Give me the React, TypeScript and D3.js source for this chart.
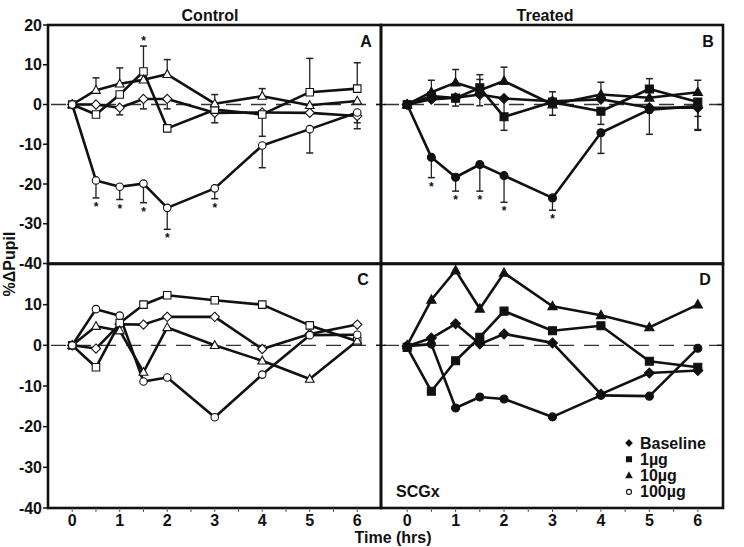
import React from 'react';
import * as d3 from 'd3';

// ---------- DATA ----------
const times = [0, 0.5, 1, 1.5, 2, 3, 4, 5, 6];
const seriesNames = ['Baseline', '1µg', '10µg', '100µg'];
const seriesShapes = ['diamond', 'square', 'triangle', 'circle'];
const yTicksUpper = [20, 10, 0, -10, -20, -30, -40];
const yTicksLower = [10, 0, -10, -20, -30, -40];
const xTicks = [0, 1, 2, 3, 4, 5, 6];
const columnTitles = ['Control', 'Treated'];
const panelLetters = ['A', 'B', 'C', 'D'];

// Panel A (Control, upper)
const A_baseline = [0, 0, -0.8, 1.4, 1.4, -2.1, -2.0, -2.1, -2.9];
const A_1ug = [0, -2.5, 2.5, 8.3, -6.0, -1.3, -2.5, 3.1, 4.0];
const A_10ug = [0, 3.6, 5.2, 6.2, 7.6, 0.2, 2.1, -0.2, 0.9];
const A_100ug = [0, -19.1, -20.7, -19.9, -26.0, -21.1, -10.3, -6.2, -2.0];
const A_baseline_errUp = [null, null, null, null, null, null, null, null, null];
const A_baseline_errDown = [null, null, 1.8, 2.5, 2.5, 2.5, null, null, 3.2];
const A_1ug_errUp = [null, null, null, 6.4, null, null, null, 8.5, 6.5];
const A_1ug_errDown = [null, null, null, null, null, null, 5.5, null, null];
const A_10ug_errUp = [null, 3.1, 4.0, null, 3.7, 2.3, 1.9, null, null];
const A_10ug_errDown = [null, null, null, null, null, null, null, null, null];
const A_100ug_errUp = [null, null, null, null, null, null, null, null, null];
const A_100ug_errDown = [null, 4.4, 3.2, 4.8, 5.4, 2.6, 5.6, 6.0, 2.6];
const A_sigBelow100 = [0.5, 1, 1.5, 2, 3];
const A_sigAbove1ug = [1.5];

// Panel B (Treated, upper)
const B_baseline = [0, 1.3, 1.7, 2.5, 1.5, 0.8, 1.3, -0.8, -0.8];
const B_1ug = [0, 2.1, 1.6, 4.2, -3.1, 0.6, -1.7, 3.9, 0.6];
const B_10ug = [0, 3.1, 5.5, 3.6, 5.9, 0.0, 2.5, 1.7, 3.1];
const B_100ug = [0, -13.3, -18.3, -15.1, -17.9, -23.5, -7.1, -1.3, -0.4];
const B_baseline_errUp = [null, null, null, null, null, null, 4.3, null, null];
const B_baseline_errDown = [null, null, 2.1, 2.8, 3.8, 3.5, null, null, 5.5];
const B_1ug_errUp = [null, null, null, 3.3, null, null, null, 2.6, null];
const B_1ug_errDown = [null, null, null, null, 3.4, null, 3.3, null, 3.6];
const B_10ug_errUp = [null, 3.0, 3.3, 2.7, 3.5, 3.2, null, null, 3.0];
const B_10ug_errDown = [null, null, null, null, null, null, null, null, null];
const B_100ug_errUp = [null, null, null, null, null, null, null, null, null];
const B_100ug_errDown = [null, 5.1, 3.5, 6.7, 6.7, 3.1, 5.2, 6.2, 6.1];
const B_sigBelow100 = [0.5, 1, 1.5, 2, 3];

// Panel C (Control, lower)
const C_baseline = [0, -0.8, 5.2, 5.1, 7.0, 7.0, -0.9, 2.8, 5.1];
const C_1ug = [0, -5.4, 5.5, 10.0, 12.3, 11.1, 10.0, 4.9, 1.0];
const C_10ug = [0, 4.7, 3.6, -6.6, 4.4, 0.0, -3.8, -8.3, 1.1];
const C_100ug = [0, 8.9, 7.3, -8.9, -7.9, -17.7, -7.2, 2.5, 2.6];

// Panel D (SCGx, lower)
const D_baseline = [-0.2, 1.8, 5.3, 0.3, 2.8, 0.6, -12.0, -6.8, -6.2];
const D_1ug = [-0.5, -11.3, -3.8, 2.0, 8.4, 3.6, 4.8, -3.9, -5.4];
const D_10ug = [0, 11.2, 18.4, 9.0, 17.8, 9.6, 7.4, 4.4, 10.0];
const D_100ug = [-0.2, 0.3, -15.4, -12.7, -13.2, -17.6, -12.3, -12.5, -0.7];
const D_note = 'SCGx';

// ---------- LAYOUT ----------
const W = 744;
const H = 547;
const FONT = '"Liberation Sans", Arial, Helvetica, sans-serif';
const colX = [
  { x0: 48, x1: 381, domain: [-0.51, 6.5] },
  { x0: 381, x1: 723, domain: [-0.54, 6.52] },
];
const rowY = [
  { y0: 25, y1: 263.5 },
  { y0: 264, y1: 508 },
];

type Series = {
  values: number[];
  errUp?: (number | null)[];
  errDown?: (number | null)[];
};

function markerPath(shape: string, size: number): string {
  const s = size;
  switch (shape) {
    case 'diamond':
      return `M0,${-s * 0.62}L${s * 0.62},0L0,${s * 0.62}L${-s * 0.62},0Z`;
    case 'square':
      return `M${-s / 2},${-s / 2}h${s}v${s}h${-s}Z`;
    case 'triangle':
      return `M0,${-s * 0.62}L${s * 0.58},${s * 0.42}L${-s * 0.58},${s * 0.42}Z`;
    default:
      return '';
  }
}

function Marker({ shape, x, y, filled, size }: { shape: string; x: number; y: number; filled: boolean; size: number }) {
  const fill = filled ? '#111' : '#fff';
  if (shape === 'circle') {
    return <circle cx={x} cy={y} r={size * 0.5} fill={fill} stroke="#111" strokeWidth={1.1} />;
  }
  return <path d={markerPath(shape, size)} transform={`translate(${x},${y})`} fill={fill} stroke="#111" strokeWidth={1.1} />;
}

function Panel({
  col, row, series, filled, letter, sigBelow, sigAbove, sigAboveIdx,
}: {
  col: number; row: number; series: Series[]; filled: boolean; letter: string;
  sigBelow?: number[]; sigAbove?: number[]; sigAboveIdx?: number;
}) {
  const cx = colX[col];
  const ry = rowY[row];
  const x = d3.scaleLinear().domain(cx.domain).range([cx.x0, cx.x1]);
  const y = d3.scaleLinear().domain([-40, 20]).range([ry.y1, ry.y0]);
  const line = d3.line<number>().x((_, i) => x(times[i])).y((v) => y(v));
  const msize = filled ? 8 : 7.5;

  const errEls: React.ReactNode[] = [];
  series.forEach((s, si) => {
    s.values.forEach((v, i) => {
      const up = s.errUp ? s.errUp[i] : null;
      const dn = s.errDown ? s.errDown[i] : null;
      const px = x(times[i]);
      if (up != null) {
        const ye = y(v + up);
        errEls.push(
          <g key={`u${si}-${i}`}>
            <line x1={px} x2={px} y1={y(v)} y2={ye} stroke="#222" strokeWidth={1.3} />
            <line x1={px - 3.5} x2={px + 3.5} y1={ye} y2={ye} stroke="#222" strokeWidth={1.5} />
          </g>
        );
      }
      if (dn != null) {
        const ye = y(v - dn);
        errEls.push(
          <g key={`d${si}-${i}`}>
            <line x1={px} x2={px} y1={y(v)} y2={ye} stroke="#222" strokeWidth={1.3} />
            <line x1={px - 3.5} x2={px + 3.5} y1={ye} y2={ye} stroke="#222" strokeWidth={1.5} />
          </g>
        );
      }
    });
  });

  const stars: React.ReactNode[] = [];
  if (sigBelow) {
    const s = series[3];
    sigBelow.forEach((t) => {
      const i = times.indexOf(t);
      const v = s.values[i] - (s.errDown && s.errDown[i] != null ? (s.errDown[i] as number) : 0);
      stars.push(
        <text key={`sb${t}`} x={x(t)} y={y(v) + 13} textAnchor="middle" fontFamily={FONT} fontWeight="bold" fontSize={12} fill="#111">*</text>
      );
    });
  }
  if (sigAbove && sigAboveIdx != null) {
    const s = series[sigAboveIdx];
    sigAbove.forEach((t) => {
      const i = times.indexOf(t);
      const v = s.values[i] + (s.errUp && s.errUp[i] != null ? (s.errUp[i] as number) : 0);
      stars.push(
        <text key={`sa${t}`} x={x(t)} y={y(v) - 1} textAnchor="middle" fontFamily={FONT} fontWeight="bold" fontSize={12} fill="#111">*</text>
      );
    });
  }

  const letterPos = row === 0 ? { dx: -15, dy: 22 } : { dx: -18, dy: 21 };
  return (
    <g>
      <line x1={cx.x0 + 3} x2={cx.x1} y1={y(0)} y2={y(0)} stroke="#333" strokeWidth={1.3} strokeDasharray="15,10" />
      {series.map((s, si) => (
        <path key={`l${si}`} d={line(s.values) || ''} fill="none" stroke="#111" strokeWidth={2.6} strokeLinejoin="round" />
      ))}
      {errEls}
      {series.map((s, si) =>
        s.values.map((v, i) => (
          <Marker key={`m${si}-${i}`} shape={seriesShapes[si]} x={x(times[i])} y={y(v)} filled={filled} size={msize} />
        ))
      )}
      {stars}
      <text x={cx.x1 + letterPos.dx} y={ry.y0 + letterPos.dy} textAnchor="middle" fontFamily={FONT} fontWeight="bold" fontSize={16} fill="#111">{letter}</text>
    </g>
  );
}

export default function App() {
  const xL = d3.scaleLinear().domain(colX[0].domain).range([colX[0].x0, colX[0].x1]);
  const xR = d3.scaleLinear().domain(colX[1].domain).range([colX[1].x0, colX[1].x1]);
  const yU = d3.scaleLinear().domain([-40, 20]).range([rowY[0].y1, rowY[0].y0]);
  const yLo = d3.scaleLinear().domain([-40, 20]).range([rowY[1].y1, rowY[1].y0]);
  const halfTicks = d3.range(0, 6.01, 0.5);

  const A: Series[] = [
    { values: A_baseline, errUp: A_baseline_errUp, errDown: A_baseline_errDown },
    { values: A_1ug, errUp: A_1ug_errUp, errDown: A_1ug_errDown },
    { values: A_10ug, errUp: A_10ug_errUp, errDown: A_10ug_errDown },
    { values: A_100ug, errUp: A_100ug_errUp, errDown: A_100ug_errDown },
  ];
  const B: Series[] = [
    { values: B_baseline, errUp: B_baseline_errUp, errDown: B_baseline_errDown },
    { values: B_1ug, errUp: B_1ug_errUp, errDown: B_1ug_errDown },
    { values: B_10ug, errUp: B_10ug_errUp, errDown: B_10ug_errDown },
    { values: B_100ug, errUp: B_100ug_errUp, errDown: B_100ug_errDown },
  ];
  const C: Series[] = [{ values: C_baseline }, { values: C_1ug }, { values: C_10ug }, { values: C_100ug }];
  const D: Series[] = [{ values: D_baseline }, { values: D_1ug }, { values: D_10ug }, { values: D_100ug }];

  const frameW = 2.6;
  const legendX = 629;
  const legendY0 = 443;

  return (
    <svg width={W} height={H} viewBox={`0 0 ${W} ${H}`} style={{ position: 'absolute', left: 0, top: 0, background: '#fff' }}>
      <rect x={0} y={0} width={W} height={H} fill="#fff" />
      {/* titles */}
      <text x={210} y={21} textAnchor="middle" fontFamily={FONT} fontWeight="bold" fontSize={16} fill="#111">{columnTitles[0]}</text>
      <text x={545} y={21} textAnchor="middle" fontFamily={FONT} fontWeight="bold" fontSize={16} fill="#111">{columnTitles[1]}</text>

      <Panel col={0} row={0} series={A} filled={false} letter={panelLetters[0]} sigBelow={A_sigBelow100} sigAbove={A_sigAbove1ug} sigAboveIdx={1} />
      <Panel col={1} row={0} series={B} filled={true} letter={panelLetters[1]} sigBelow={B_sigBelow100} />
      <Panel col={0} row={1} series={C} filled={false} letter={panelLetters[2]} />
      <Panel col={1} row={1} series={D} filled={true} letter={panelLetters[3]} />

      {/* frames */}
      {colX.map((c, ci) =>
        rowY.map((r, ri) => (
          <rect key={`f${ci}${ri}`} x={c.x0} y={r.y0} width={c.x1 - c.x0} height={r.y1 - r.y0} fill="none" stroke="#111" strokeWidth={frameW} />
        ))
      )}

      {/* y ticks upper */}
      {yTicksUpper.map((t) => (
        <g key={`yu${t}`}>
          <line x1={43} x2={48} y1={yU(t)} y2={yU(t)} stroke="#111" strokeWidth={1.5} />
          <text x={42} y={yU(t) + 5.5} textAnchor="end" fontFamily={FONT} fontWeight="bold" fontSize={16} fill="#111">{t}</text>
        </g>
      ))}
      {yTicksLower.map((t) => (
        <g key={`yl${t}`}>
          <line x1={43} x2={48} y1={yLo(t)} y2={yLo(t)} stroke="#111" strokeWidth={1.5} />
          <text x={42} y={yLo(t) + 5.5} textAnchor="end" fontFamily={FONT} fontWeight="bold" fontSize={16} fill="#111">{t}</text>
        </g>
      ))}
      {/* zero ticks on right edges */}
      <line x1={376} x2={386} y1={yU(0)} y2={yU(0)} stroke="#111" strokeWidth={1.3} />
      <line x1={717} x2={723} y1={yU(0)} y2={yU(0)} stroke="#111" strokeWidth={1.3} />
      <line x1={376} x2={386} y1={yLo(0)} y2={yLo(0)} stroke="#111" strokeWidth={1.3} />
      <line x1={717} x2={723} y1={yLo(0)} y2={yLo(0)} stroke="#111" strokeWidth={1.3} />

      {/* x ticks */}
      {halfTicks.map((t) => (
        <g key={`xt${t}`}>
          <line x1={xL(t)} x2={xL(t)} y1={508} y2={512} stroke="#555" strokeWidth={1} />
          <line x1={xR(t)} x2={xR(t)} y1={508} y2={512} stroke="#555" strokeWidth={1} />
        </g>
      ))}
      {xTicks.map((t) => (
        <g key={`xl${t}`}>
          <text x={xL(t)} y={526} textAnchor="middle" fontFamily={FONT} fontWeight="bold" fontSize={16} fill="#111">{t}</text>
          <text x={xR(t)} y={526} textAnchor="middle" fontFamily={FONT} fontWeight="bold" fontSize={16} fill="#111">{t}</text>
        </g>
      ))}
      <text x={393} y={543} textAnchor="middle" fontFamily={FONT} fontWeight="bold" fontSize={16} fill="#111">Time (hrs)</text>
      <text transform="translate(15,264) rotate(-90)" textAnchor="middle" fontFamily={FONT} fontWeight="bold" fontSize={16} fill="#111">%ΔPupil</text>

      {/* legend */}
      {seriesNames.map((n, i) => (
        <g key={`lg${i}`}>
          <Marker shape={seriesShapes[i]} x={legendX} y={legendY0 + i * 16.3} filled={seriesShapes[i] !== 'circle'} size={5} />
          <text x={640} y={legendY0 + i * 16.3 + 5.5} fontFamily={FONT} fontWeight="bold" fontSize={16} fill="#111">{n}</text>
        </g>
      ))}
      <text x={396} y={497} fontFamily={FONT} fontWeight="bold" fontSize={16} fill="#111">{D_note}</text>
    </svg>
  );
}
